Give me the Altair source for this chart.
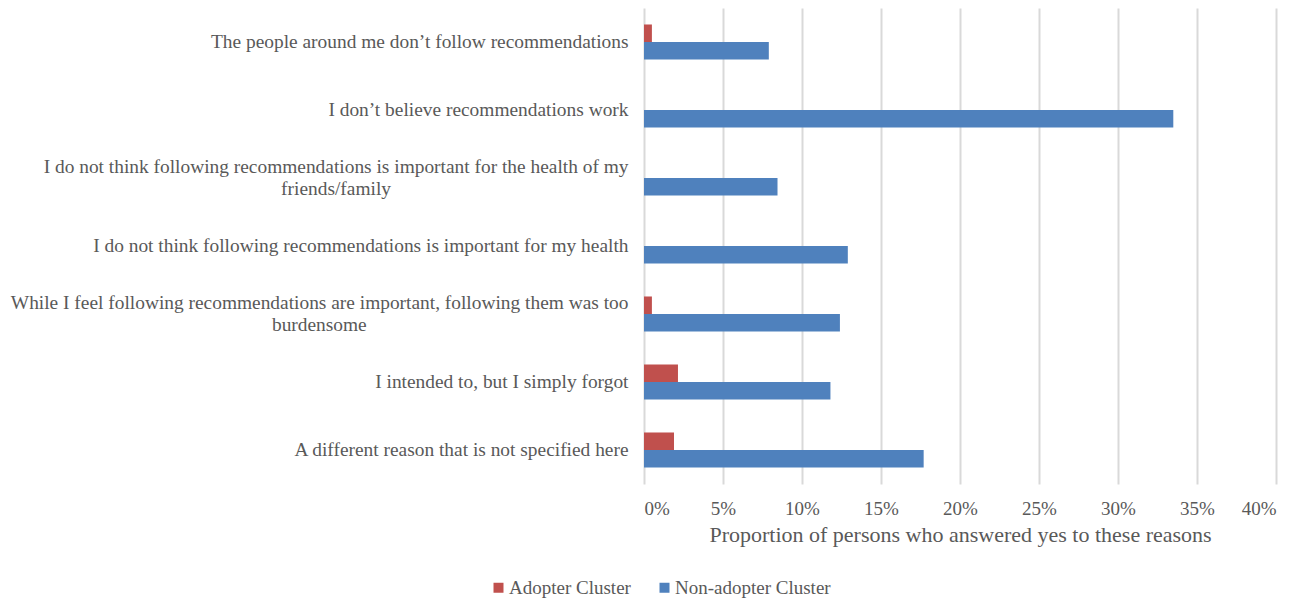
import altair as alt
import pandas as pd

categories = [
    "The people around me don\u2019t follow recommendations",
    "I don\u2019t believe recommendations work",
    "I do not think following recommendations is important for the health of my|friends/family",
    "I do not think following recommendations is important for my health",
    "While I feel following recommendations are important, following them was too|burdensome",
    "I intended to, but I simply forgot",
    "A different reason that is not specified here",
]
series = ["Adopter Cluster", "Non-adopter Cluster"]
adopter = [0.005, 0.0, 0.0, 0.0, 0.005, 0.0215, 0.019]
non_adopter = [0.079, 0.335, 0.0845, 0.129, 0.124, 0.118, 0.177]
tick_values = [0, 0.05, 0.10, 0.15, 0.20, 0.25, 0.30, 0.35, 0.40]
colors = ["#C0504D", "#4F81BD"]

rows = []
for c, a, n in zip(categories, adopter, non_adopter):
    rows.append({"reason": c, "series": series[0], "value": a})
    rows.append({"reason": c, "series": series[1], "value": n})
df = pd.DataFrame(rows)

FONT = "Liberation Serif"
GRAY = "#595959"

# Multi-line labels: second line is centred under the first (as in the original),
# by padding it with no-break spaces on its right (closed by a zero-width space so
# that the padding is not trimmed away).
label_expr = (
    "length(split(datum.label, '|')) > 1 ? "
    "[split(datum.label, '|')[0], "
    "pad(split(datum.label, '|')[1], "
    "length(split(datum.label, '|')[1]) + round((length(split(datum.label, '|')[0]) - length(split(datum.label, '|')[1])) * 0.82), "
    "'\u00a0', 'right') + '\u200b'] : datum.label"
)

chart = (
    alt.Chart(df)
    .mark_bar()
    .encode(
        y=alt.Y(
            "reason:N",
            sort=categories,
            title=None,
            scale=alt.Scale(paddingInner=0.485, paddingOuter=0.2425),
            axis=alt.Axis(
                domain=False,
                ticks=False,
                labelLimit=1000,
                labelPadding=16,
                labelFont=FONT,
                labelFontSize=19.4,
                labelColor=GRAY,
                labelExpr=label_expr,
                labelLineHeight=22,
                labelOffset={"condition": {"test": "indexof(datum.value, '|') >= 0", "value": -11}, "value": 0},
            ),
        ),
        yOffset=alt.YOffset("series:N", sort=series, scale=alt.Scale(paddingInner=0, paddingOuter=0)),
        x=alt.X(
            "value:Q",
            scale=alt.Scale(domain=[0, 0.4], nice=False),
            title="Proportion of persons who answered yes to these reasons",
            axis=alt.Axis(
                values=tick_values,
                format=".0%",
                domain=False,
                ticks=False,
                grid=True,
                gridColor="#D9D9D9",
                gridWidth=2,
                labelFont=FONT,
                labelFontSize=19,
                labelColor=GRAY,
                labelPadding=15,
                titleFont=FONT,
                titleFontSize=22,
                titleFontWeight="normal",
                titleColor=GRAY,
                titlePadding=6,
            ),
        ),
        color=alt.Color(
            "series:N",
            sort=series,
            scale=alt.Scale(domain=series, range=colors),
            legend=alt.Legend(
                title=None,
                orient="none",
                direction="horizontal",
                legendX=-155,
                legendY=570,
                symbolType="square",
                symbolSize=100,
                symbolStrokeWidth=0,
                labelFont=FONT,
                labelFontSize=19,
                labelColor=GRAY,
                columnPadding=24,
                labelOffset=1,
            ),
        ),
    )
    .properties(width=632, height=476, padding={"left": 2, "top": 0, "right": 5, "bottom": 5})
    .configure_view(stroke=None)
)

chart.save("out.html", embed_options={"renderer": "svg", "actions": False})
